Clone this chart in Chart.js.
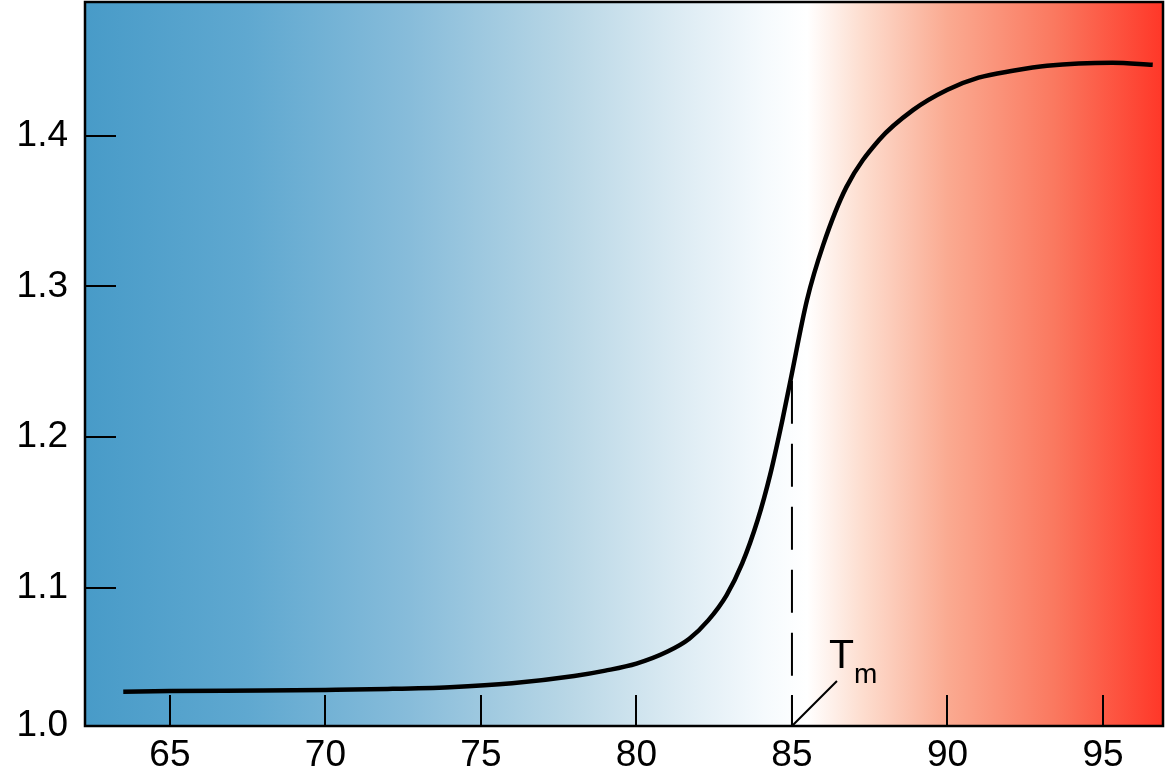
<!DOCTYPE html>
<html>
<head>
<meta charset="utf-8">
<script src="https://cdn.jsdelivr.net/npm/chart.js@4.4.1/dist/chart.umd.min.js"></script>
<style>
  html, body { margin: 0; padding: 0; background: #fff; }
  #wrap { width: 1175px; height: 776px; }
</style>
</head>
<body>
<div id="wrap"><canvas id="curva"></canvas></div>
<script>
// datos
const temperaturas = [63.5, 65, 68, 70, 72, 74, 76, 78, 79, 80, 81, 81.7, 82.3, 82.9, 83.4, 83.9, 84.3, 84.7, 84.95, 85.48, 86, 86.75, 87.8, 88.9, 90, 91, 92.1, 93.2, 95.3, 96.6];
const absorbancia = [1.0307, 1.0312, 1.0316, 1.032, 1.0326, 1.0338, 1.0364, 1.0412, 1.0448, 1.0495, 1.0575, 1.066, 1.078, 1.095, 1.116, 1.145, 1.175, 1.212, 1.2373, 1.2907, 1.3273, 1.366, 1.3973, 1.4173, 1.4307, 1.4387, 1.4433, 1.4467, 1.4487, 1.4473];
const tm = 85;
const tmValor = 1.2373;
const ticksX = [65, 70, 75, 80, 85, 90, 95];
const ticksY = [1.008, 1.1, 1.2, 1.3, 1.4];
const xMin = 62.27, xMax = 96.93;
const yMin = 1.008, yMax = 1.489;

const fuente = '"Liberation Sans", Arial, Helvetica, sans-serif';

//fondo degradado azul -> blanco -> rojo
const fondo = {
  id: 'fondo',
  beforeDraw(chart) {
    const { ctx, chartArea: a } = chart;
    const g = ctx.createLinearGradient(a.left, 0, a.right, 0);
    g.addColorStop(0, 'rgb(72,155,200)');
    g.addColorStop(0.15, 'rgb(95,168,208)');
    g.addColorStop(0.3, 'rgb(135,188,218)');
    g.addColorStop(0.45, 'rgb(185,215,230)');
    g.addColorStop(0.55, 'rgb(220,235,243)');
    g.addColorStop(0.63, 'rgb(245,250,253)');
    g.addColorStop(0.67, 'rgb(255,255,255)');
    g.addColorStop(0.72, 'rgb(253,222,208)');
    g.addColorStop(0.8, 'rgb(250,170,145)');
    g.addColorStop(0.9, 'rgb(250,120,95)');
    g.addColorStop(1, 'rgb(255,55,40)');
    ctx.save();
    ctx.fillStyle = g;
    ctx.fillRect(a.left, a.top, a.right - a.left, a.bottom - a.top);
    ctx.restore();
  }
};

//marco, ticks hacia dentro y etiqueta Tm
const marco = {
  id: 'marco',
  afterDatasetsDraw(chart) {
    const { ctx, chartArea: a, scales } = chart;
    const sx = scales.x, sy = scales.y;
    ctx.save();
    ctx.strokeStyle = '#000';
    ctx.lineWidth = 2;
    ticksX.forEach(v => {
      const px = Math.round(sx.getPixelForValue(v));
      ctx.beginPath();
      ctx.moveTo(px, a.bottom);
      ctx.lineTo(px, a.bottom - 31);
      ctx.stroke();
    });
    ticksY.slice(1).forEach(v => {
      const py = Math.round(sy.getPixelForValue(v));
      ctx.beginPath();
      ctx.moveTo(a.left, py);
      ctx.lineTo(a.left + 31, py);
      ctx.stroke();
    });
    ctx.lineWidth = 2.5;
    ctx.strokeRect(a.left, a.top, a.right - a.left, a.bottom - a.top);

    // linea guia de Tm
    const x0 = sx.getPixelForValue(tm);
    ctx.lineWidth = 2;
    ctx.beginPath();
    ctx.moveTo(x0, a.bottom);
    ctx.lineTo(x0 + 45, a.bottom - 45);
    ctx.stroke();
    ctx.fillStyle = '#000';
    ctx.textBaseline = 'alphabetic';
    ctx.font = '41px ' + fuente;
    ctx.fillText('T', x0 + 37, a.bottom - 58);
    ctx.font = '28px ' + fuente;
    ctx.fillText('m', x0 + 62, a.bottom - 43);
    ctx.restore();
  }
};

new Chart(document.getElementById('curva'), {
  type: 'scatter',
  data: {
    datasets: [{
      data: temperaturas.map((t, i) => ({ x: t, y: absorbancia[i] })),
      showLine: true,
      borderColor: '#000',
      borderWidth: 4.5,
      pointRadius: 0,
      cubicInterpolationMode: 'monotone',
      borderCapStyle: 'butt'
    }, {
      data: [{ x: tm, y: tmValor }, { x: tm, y: yMin }],
      showLine: true,
      borderColor: '#000',
      borderWidth: 2,
      borderDash: [43, 20],
      pointRadius: 0
    }]
  },
  options: {
    responsive: true,
    maintainAspectRatio: false,
    animation: false,
    layout: { padding: { top: 2, right: 12, left: 0, bottom: 0 } },
    plugins: { legend: { display: false }, tooltip: { enabled: false } },
    scales: {
      x: {
        type: 'linear',
        min: xMin, max: xMax,
        border: { display: false },
        grid: { display: false, drawTicks: false },
        afterBuildTicks: s => { s.ticks = ticksX.map(v => ({ value: v })); },
        afterFit: s => { s.height = 50; s.paddingLeft = 0; s.paddingRight = 0; },
        ticks: {
          color: '#000',
          padding: 8,
          maxRotation: 0,
          font: { family: fuente, size: 37 },
          callback: v => v
        }
      },
      y: {
        type: 'linear',
        min: yMin, max: yMax,
        border: { display: false },
        grid: { display: false, drawTicks: false },
        afterBuildTicks: s => { s.ticks = ticksY.map(v => ({ value: v })); },
        afterFit: s => { s.width = 85; s.paddingTop = 0; s.paddingBottom = 0; },
        ticks: {
          color: '#000',
          padding: 17,
          font: { family: fuente, size: 37 },
          callback: v => (v === yMin ? '1.0' : v.toFixed(1))
        }
      }
    }
  },
  plugins: [fondo, marco]
});
</script>
</body>
</html>
